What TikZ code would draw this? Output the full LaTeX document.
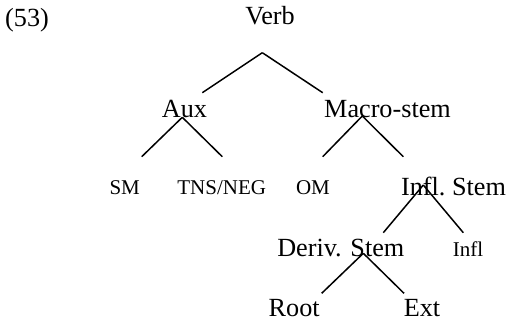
\documentclass[tikz,border=0pt]{standalone}
\usepackage{fontspec}
\setmainfont{Liberation Serif}
\begin{document}
\begin{tikzpicture}[x=1pt,y=-1pt,
  big/.style={inner sep=0pt,anchor=base,font=\fontsize{26.2}{30}\selectfont},
  small/.style={inner sep=0pt,anchor=base,font=\fontsize{21}{25}\selectfont},
  branch/.style={line width=1.5pt}]
\useasboundingbox (0,0) rectangle (511,321);
\node[big,anchor=base west] (ex) at (5,27) {(53)};
\node[big] (verb) at (270,25) {Verb};
\node[big] (aux) at (184.5,117) {Aux};
\node[big] (macro) at (387.5,117) {Macro-stem};
\node[small] (sm) at (124.7,194) {SM};
\node[small] (tns) at (221.7,194) {TNS/NEG};
\node[small] (om) at (313,194) {OM};
\node[big] (infls) at (453.5,195) {Infl.\ Stem};
\node[big] (deriv) at (340.8,256.7) {Deriv. Stem};
\node[small] (infl) at (468,256.7) {Infl};
\node[big] (root) at (294.2,316.7) {Root};
\node[big] (ext) at (422,316.7) {Ext};
% Verb
\draw[branch] ([shift={(-7.7,27.7)}]verb.base) coordinate (vj)
  -- ([shift={(17.8,-24.3)}]aux.base);
\draw[branch] (vj) -- ([shift={(-64.8,-24.3)}]macro.base);
% Aux
\draw[branch] ([shift={(-2.2,0.3)}]aux.base) coordinate (aj)
  -- ([shift={(17,-37.3)}]sm.base);
\draw[branch] (aj) -- ([shift={(0.6,-37.3)}]tns.base);
% Macro-stem
\draw[branch] ([shift={(-25.2,-1)}]macro.base) coordinate (mj)
  -- ([shift={(9.7,-37.3)}]om.base);
\draw[branch] (mj) -- ([shift={(-50.2,-38.3)}]infls.base);
% Infl. Stem
\draw[branch] ([shift={(-30.2,-10)}]infls.base) coordinate (ij)
  -- ([shift={(42.5,-24)}]deriv.base);
\draw[branch] (ij) -- ([shift={(-4.7,-24)}]infl.base);
% Deriv. Stem
\draw[branch] ([shift={(22.5,-3.4)}]deriv.base) coordinate (dj)
  -- ([shift={(27.5,-23.4)}]root.base);
\draw[branch] (dj) -- ([shift={(-18,-23.4)}]ext.base);
\end{tikzpicture}
\end{document}
